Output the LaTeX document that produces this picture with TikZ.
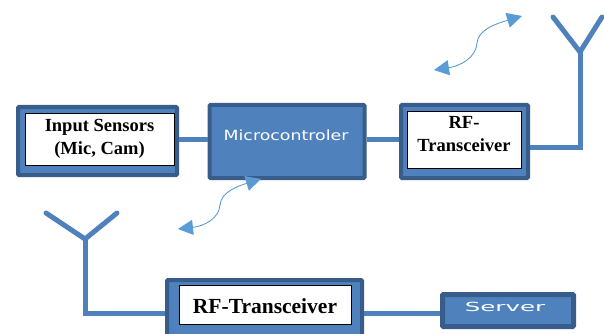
\documentclass[tikz,border=0pt]{standalone}
\usepackage{fontspec}
\usepackage{graphicx}
\setmainfont{Liberation Serif}
\newfontfamily\labelfont{DejaVu Sans}
\usetikzlibrary{arrows.meta}
\definecolor{boxblue}{HTML}{4F81BD}
\definecolor{edgeblue}{HTML}{385D8A}
\definecolor{waveblue}{HTML}{5B9BD5}
\tikzset{
  bluebox/.style={draw=edgeblue,fill=boxblue,line width=4pt,rounded corners=1pt,inner sep=0pt},
  whitebox/.style={draw=black,fill=white,line width=0.8pt,inner sep=0pt,align=center,font=\bfseries\fontsize{18.5}{22.5}\selectfont},
  bluetext/.style={text=white,font=\labelfont\fontsize{14}{16}\selectfont},
  wire/.style={draw=boxblue,line width=5pt},
  wave/.style={draw=waveblue,line width=0.9pt,{Triangle[length=15pt,width=15pt]}-{Triangle[length=15pt,width=15pt]}}
}
\begin{document}
\begin{tikzpicture}[x=1pt,y=-1pt]
        \useasboundingbox (0,0) rectangle (604,334);
        \clip (0,0) rectangle (604,334);
        % wires
        \coordinate (TopJoint) at (580,52);
        \coordinate (TopLeft) at (553,17);
        \coordinate (TopRight) at (602,17);
        \coordinate (TopCorner) at (580,147);
        \coordinate (BotJoint) at (85,239);
        \coordinate (BotLeft) at (46,213);
        \coordinate (BotRight) at (117,213);
        \coordinate (BotCorner) at (85,313);
        % boxes
        \node[bluebox,minimum width=159pt,minimum height=68pt] (sensorsbox) at (97.5,141) {};
        \node[bluebox,minimum width=155pt,minimum height=73pt] (micro) at (287,141.5) {};
        \node[bluetext] at (286,135) {\scalebox{1.24}[1]{Microcontroler}};
        \node[bluebox,minimum width=127pt,minimum height=73pt] (rftopbox) at (464.5,141.5) {};
        \node[bluebox,minimum width=195pt,minimum height=80pt] (rfbotbox) at (264.5,320) {};
        \node[bluebox,line width=5pt,minimum width=131pt,minimum height=32pt] (server) at (508,310.5) {};
        \node[bluetext] at (505,307) {\scalebox{1.75}[0.9]{Server}};
        \node[whitebox,text depth=5pt,minimum width=149pt,minimum height=52.5pt] (sensors) at (99.5,139.5) {Input Sensors\\(Mic, Cam)};
        \node[whitebox,text depth=11pt,minimum width=114pt,minimum height=57pt] (rftop) at (464,139.5) {RF-\\Transceiver};
        \node[whitebox,text height=19pt,minimum width=172pt,minimum height=39pt,font=\bfseries\fontsize{21.5}{24}\selectfont] (rfbot) at (265,304.5) {RF-Transceiver};
        % connectors
        \draw[wire] (sensorsbox.east |- 0,139) -- (micro.west |- 0,139);
        \draw[wire] (micro.east |- 0,139) -- (rftopbox.west |- 0,139);
        \draw[wire] (rftopbox.east |- TopCorner) -- (TopCorner) -- (TopJoint);
        \draw[wire,line cap=round] (TopLeft) -- (TopJoint) -- (TopRight);
        \draw[wire] (rfbotbox.west |- BotCorner) -- (BotCorner) -- (BotJoint);
        \draw[wire,line cap=round] (BotLeft) -- (BotJoint) -- (BotRight);
        \draw[wire] (rfbotbox.east |- 0,313) -- (server.west |- 0,313);
        % radio links
        \coordinate (WaveA) at (434,70);
        \coordinate (WaveB) at (522,16);
        \coordinate (WaveC) at (178,229);
        \coordinate (WaveD) at (261,179);
        \draw[wave] (WaveA) .. controls (460,66) and (476,58) .. (477,43) .. controls (478,30) and (495,24) .. (WaveB);
        \draw[wave] (WaveC) .. controls (205,226) and (219,218) .. (220,205) .. controls (221,192) and (238,186) .. (WaveD);
\end{tikzpicture}
\end{document}
